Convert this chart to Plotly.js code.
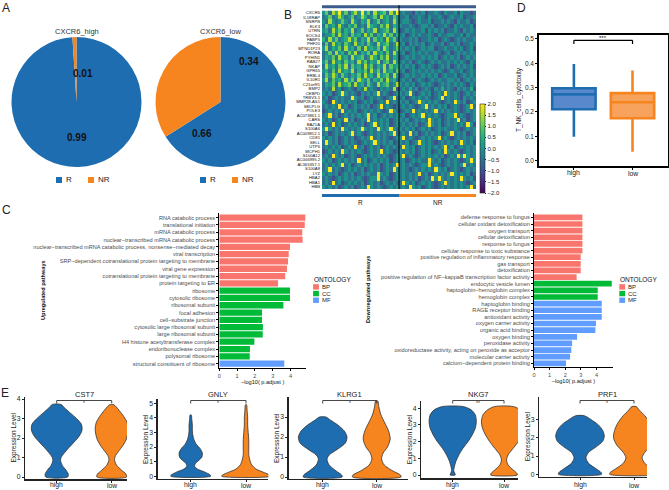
<!DOCTYPE html>
<html><head><meta charset="utf-8">
<script src="https://cdn.plot.ly/plotly-3.0.1.min.js"></script>
<style>html,body{margin:0;padding:0;background:#fff;}#chart{width:669px;height:490px;}</style>
</head><body><div id="chart"></div>
<script>
// ================= DATA =================
const pieTitles = ['CXCR6_high', 'CXCR6_low'];
const pieLabels = ['R', 'NR'];
const pieHigh = [0.99, 0.01];
const pieLow = [0.66, 0.34];

const heatGenes = ['CXCR6','IL18RAP','SNRPB','ELK3','UTRN','SOCS4','FABP5','PHF20','MTND1P23','RORA',
  'PYHIN1','RAB27','NKAP','GPR65','ERBL4','IL10R1','C21orf91','BMP2','CEBPD','TRBV3-1',
  'MMP28-AS1','SELPLG','POLE3','AC073861.1','CARS','BAZ1A','S100A6','AC009812.1','CD81','SELL',
  'UTP6','MCPH1','S100A12','AC006995.2','AL365357.1','S100A8','LYZ','HBA2','HBA1','HBB'];
const heatGroups = ['R', 'NR'];
// each row: 24 R cells then 24 NR cells, digit d -> value -2 + 0.5*d
const heatRows = [
"46375846 35748463 74563748 34332434 23343243 34243323",
"34634753 46347534 63745364 33423343 24334323 43342334",
"43743464 37435473 46345374 34432343 34233434 32433423",
"36453743 54634375 43647354 43343234 43423343 24343342",
"45374635 47346354 73456374 23434334 24343423 34324343",
"34463745 36453746 35474635 34234343 34324334 43342433",
"53746345 74635473 64537463 43343423 34342343 23434334",
"36374536 43745364 37456347 34243434 23433423 43423343",
"47354637 45363745 46375346 43434234 34423343 34342342",
"34637453 64735463 74536374 34234343 43343234 23434343",
"35463745 37456347 53647354 23434334 34342343 43423434",
"46374536 45374635 47356374 34342343 23434334 34343243",
"37453647 36453746 35473645 43434234 34323434 23434342",
"45363745 47354637 46374536 34234343 43434323 43342343",
"36475364 35463745 37456374 23434334 34342343 34234343",
"47364537 46375463 54637453 34342343 23434334 43423434",
"35463745 63745364 37456347 43434234 34323434 34343243",
"34373423 43243734 32434372 34353423 43243534 32434352",
"43423484 34324343 48343234 43483234 34234384 34323434",
"34234343 38434234 34323483 34234343 43234834 34324343",
"43284343 43423434 23438343 43423484 34343234 38434234",
"34343834 23434342 34834323 34343234 83434342 34323483",
"23434383 43423434 34323843 23438343 43483434 34323434",
"34834234 34343483 42343434 34234348 34343234 48343234",
"43423438 34234383 43434234 43423434 38434234 34834234",
"34383423 43434234 83434234 34343423 48434234 34343842",
"48434384 34348434 38434843 43434234 34234343 34323434",
"34234343 48343234 34343483 34383423 43434234 83434234",
"43434234 34234348 34343234 48343234 34348343 23434343",
"38434234 34323434 84343423 43423484 34323434 34384342",
"34343423 43834234 34234343 38434234 34343483 42343434",
"23434384 34343234 34834323 43434234 34234384 34323434",
"34384342 34323434 34343234 48343234 34343423 43848434",
"43423434 34383423 43434234 34234343 38434234 34323484",
"34343483 42343434 34234348 34343234 48343234 34348343",
"34834323 43434234 34234384 34323434 34384342 34323434",
"43434234 34234343 38434234 34343483 42343434 84343423",
"34323434 34343234 48343234 34343423 43848434 34384342",
"34383423 43434234 34234343 38434234 34323484 34343234",
"43434234 34234384 34323434 34384342 34323434 34343483"
];
const heatTicks = [2.0, 1.5, 1.0, 0.5, 0.0, -0.5, -1.0, -1.5, -2.0];

const upTerms = ['RNA catabolic process','translational initiation','mRNA catabolic process',
  'nuclear\u2212transcribed mRNA catabolic process',
  'nuclear\u2212transcribed mRNA catabolic process, nonsense\u2212mediated decay',
  'viral transcription','SRP\u2212dependent cotranslational protein targeting to membrane',
  'viral gene expression','cotranslational protein targeting to membrane','protein targeting to ER',
  'ribosome','cytosolic ribosome','ribosomal subunit','focal adhesion','cell\u2212substrate junction',
  'cytosolic large ribosomal subunit','large ribosomal subunit','H4 histone acetyltransferase complex',
  'endoribonuclease complex','polysomal ribosome','structural constituent of ribosome'];
const upValues = [4.83,4.80,4.66,4.68,3.97,3.90,3.86,3.80,3.70,3.30,
  3.97,3.97,3.60,2.40,2.40,2.45,2.44,1.97,1.72,1.71,3.65];
const upOntology = ['BP','BP','BP','BP','BP','BP','BP','BP','BP','BP',
  'CC','CC','CC','CC','CC','CC','CC','CC','CC','CC','MF'];

const downTerms = ['defense response to fungus','cellular oxidant detoxification','oxygen transport',
  'cellular detoxification','response to fungus','cellular response to toxic substance',
  'positive regulation of inflammatory response','gas transport','detoxification',
  'positive regulation of NF\u2212kappaB transcription factor activity',
  'endocytic vesicle lumen','haptoglobin\u2212hemoglobin complex','hemoglobin complex',
  'haptoglobin binding','RAGE receptor binding','antioxidant activity','oxygen carrier activity',
  'organic acid binding','oxygen binding','peroxidase activity',
  'oxidoreductase activity, acting on peroxide as acceptor','molecular carrier activity',
  'calcium\u2212dependent protein binding'];
const downValues = [3.10,3.10,3.10,3.10,3.10,3.10,2.99,2.99,2.99,2.73,
  4.98,4.08,4.08,4.34,4.34,4.34,3.97,3.93,2.76,2.44,2.39,2.31,2.05];
const downOntology = ['BP','BP','BP','BP','BP','BP','BP','BP','BP','BP',
  'CC','CC','CC','MF','MF','MF','MF','MF','MF','MF','MF','MF','MF'];
const ontologyNames = ['BP','CC','MF'];

const boxGroups = ['high','low'];
const boxQ1 = [0.211, 0.174];
const boxMedian = [0.272, 0.240];
const boxQ3 = [0.297, 0.277];
const boxLower = [0.098, 0.036];
const boxUpper = [0.397, 0.370];
const boxSignif = '***';
const boxYTitle = 'T_NK_cells_cytotoxity';

const violinGenes = ['CST7','GNLY','KLRG1','NKG7','PRF1'];
const violinSignif = ['*','*','*','**','*'];
const violinGroups = ['high','low'];
// density outlines: expression levels and half widths (in category units)
const cst7HighY = [0,0.15,0.35,0.6,0.85,1.0,1.2,1.5,1.8,2.1,2.4,2.7,3.0,3.3,3.55,3.72];
const cst7HighW = [0.2,0.21,0.17,0.1,0.07,0.08,0.13,0.22,0.32,0.41,0.46,0.45,0.36,0.24,0.14,0.08];
const cst7LowY  = [0,0.15,0.35,0.6,0.9,1.1,1.3,1.6,1.9,2.2,2.5,2.8,3.1,3.4,3.6,3.7];
const cst7LowW  = [0.27,0.26,0.18,0.09,0.05,0.07,0.12,0.2,0.26,0.29,0.3,0.28,0.22,0.14,0.08,0.04];
const gnlyHighY = [0,0.1,0.3,0.5,0.7,0.9,1.1,1.3,1.6,1.9,2.2,2.5,2.8,3.1,3.5,3.9,4.2];
const gnlyHighW = [0.36,0.35,0.25,0.12,0.07,0.09,0.15,0.2,0.21,0.17,0.1,0.06,0.04,0.03,0.03,0.02,0.01];
const gnlyLowY  = [0,0.1,0.3,0.5,0.8,1.1,1.5,2.0,2.5,3.0,3.5,4.0,4.5,4.9];
const gnlyLowW  = [0.44,0.42,0.3,0.18,0.1,0.07,0.05,0.05,0.05,0.04,0.03,0.03,0.02,0.01];
const klrg1HighY = [0,0.1,0.3,0.6,0.9,1.1,1.4,1.7,2.0,2.3,2.6,2.85,3.0];
const klrg1HighW = [0.36,0.35,0.25,0.12,0.08,0.12,0.28,0.42,0.45,0.4,0.28,0.14,0.06];
const klrg1LowY  = [0,0.1,0.3,0.6,0.9,1.2,1.5,1.9,2.3,2.7,3.1,3.5,3.8];
const klrg1LowW  = [0.45,0.44,0.3,0.14,0.09,0.12,0.2,0.25,0.22,0.15,0.08,0.04,0.02];
const nkg7HighY = [0,0.1,0.25,0.45,0.8,1.2,1.6,2.0,2.4,2.8,3.2,3.6,3.9,4.1];
const nkg7HighW = [0.05,0.04,0.02,0.03,0.06,0.12,0.2,0.3,0.38,0.44,0.46,0.44,0.36,0.2];
const nkg7LowY  = [0,0.1,0.3,0.6,0.9,1.2,1.6,2.0,2.4,2.8,3.2,3.6,3.9,4.1];
const nkg7LowW  = [0.26,0.25,0.18,0.08,0.05,0.08,0.18,0.28,0.36,0.42,0.44,0.41,0.32,0.18];
const prf1HighY = [0,0.1,0.3,0.6,0.9,1.2,1.5,1.8,2.1,2.4,2.7,3.0,3.2];
const prf1HighW = [0.4,0.39,0.3,0.16,0.11,0.16,0.3,0.42,0.45,0.42,0.34,0.2,0.08];
const prf1LowY  = [0,0.1,0.3,0.6,0.9,1.2,1.6,2.0,2.4,2.8,3.2,3.5,3.7];
const prf1LowW  = [0.45,0.44,0.34,0.2,0.15,0.2,0.32,0.38,0.36,0.3,0.2,0.1,0.04];
const violinTicks = [[0,1,2,3,4],[0,1,2,3,4,5],[0,1,2,3],[0,1,2,3,4],[0,1,2,3]];

// ================= LAYOUT HELPERS =================
const W = 669, H = 490;
const xd = (a, b) => [a / W, b / W];
const yd = (a, b) => [1 - b / H, 1 - a / H];
const FONT = 'Liberation Sans, Arial, Helvetica, sans-serif';
const BLUE = '#1f6db1', ORANGE = '#f6851f';
const ONTO_COLORS = {BP: '#F8766D', CC: '#00BA38', MF: '#619CFF'};
const traces = [];
const annotations = [];
const shapes = [];
const layout = {
  width: W, height: H, margin: {l: 0, r: 0, t: 0, b: 0},
  paper_bgcolor: '#ffffff', plot_bgcolor: 'rgba(0,0,0,0)',
  showlegend: false, barmode: 'overlay', boxmode: 'overlay',
  font: {family: FONT, size: 6, color: '#333'},
  annotations: annotations, shapes: shapes
};
function note(a) {
  annotations.push(Object.assign({showarrow: false, xanchor: 'center', yanchor: 'middle',
    borderpad: 0, font: {family: FONT, size: 6.5, color: '#222'}}, a));
}
function txt(x, y, text, size, opts) {
  note(Object.assign({xref: 'paper', yref: 'paper', x: x / W, y: 1 - y / H, text: text,
    font: {family: FONT, size: size, color: '#222'}}, opts || {}));
}
function rect(x0, y0, x1, y1, color) {
  shapes.push({type: 'rect', xref: 'paper', yref: 'paper', x0: x0 / W, x1: x1 / W, y0: 1 - y1 / H, y1: 1 - y0 / H,
    fillcolor: color, line: {width: 0}});
}

// panel letters
txt(6, 8, 'A', 12); txt(288, 15, 'B', 12); txt(6, 210, 'C', 12); txt(521, 8, 'D', 12); txt(5, 393, 'E', 12);

// ================= A: pies =================
const pieCx = [76.5, 220.5], pieCy = 102, pieR = 65;
[pieHigh, pieLow].forEach((vals, k) => {
  traces.push({type: 'pie', values: vals, labels: pieLabels, sort: false, direction: 'counterclockwise',
    rotation: 0, marker: {colors: [BLUE, ORANGE], line: {width: 0}}, textinfo: 'none', hoverinfo: 'none',
    showlegend: false, domain: {x: xd(pieCx[k] - pieR, pieCx[k] + pieR), y: yd(pieCy - pieR, pieCy + pieR)}});
  txt(pieCx[k], 31.5, pieTitles[k], 7.5, {font: {family: FONT, size: 7.5, color: '#333'}});
  rect(pieCx[k] - 20.5, 177, pieCx[k] - 14.5, 183, BLUE);
  txt(pieCx[k] - 12, 180, pieLabels[0], 8, {xanchor: 'left'});
  rect(pieCx[k] + 11.5, 177, pieCx[k] + 17.5, 183, ORANGE);
  txt(pieCx[k] + 20, 180, pieLabels[1], 8, {xanchor: 'left'});
});
const pieLabelPos = [[[76.5, 137], [82.7, 73.3]], [[201.7, 133.3], [248.7, 61.7]]];
[pieHigh, pieLow].forEach((vals, k) => {
  vals.forEach((v, i) => {
    txt(pieLabelPos[k][i][0], pieLabelPos[k][i][1], '<b>' + v.toFixed(2) + '</b>', 10, {font: {family: FONT, size: 10, color: '#111'}});
  });
});

// ================= B: heatmap =================
const heatZ = heatRows.map(r => r.replace(/\s/g, '').split('').map(d => -2 + 0.5 * Number(d)));
const nCols = heatZ[0].length, nR = nCols / 2;
const colIdx = Array.from({length: nCols}, (_, i) => i);
const rowIdx = heatGenes.map((_, i) => i);
const HX0 = 322, HX1 = 476, HY0 = 10.5, HY1 = 189;
traces.push({type: 'heatmap', z: heatZ, x: colIdx, y: rowIdx, xaxis: 'x', yaxis: 'y',
  colorscale: 'Viridis', zmin: -2, zmax: 2, hoverinfo: 'none',
  colorbar: {x: 480 / W, xanchor: 'left', y: 1 - 104 / H, yanchor: 'top', len: 89, lenmode: 'pixels',
    thickness: 4.5, thicknessmode: 'pixels', xpad: 0, ypad: 0, outlinewidth: 0.6, outlinecolor: '#222',
    tickvals: heatTicks, ticktext: heatTicks.map(v => (v < 0 ? '\u2212' : '') + Math.abs(v).toFixed(1)),
    tickfont: {family: FONT, size: 6, color: '#222'}, ticks: 'outside', ticklen: 1.5, tickcolor: '#222'}});
layout.xaxis = {domain: xd(HX0, HX1), range: [-0.5, nCols - 0.5], showticklabels: false, showgrid: false,
  zeroline: false, ticks: '', showline: false};
layout.yaxis = {domain: yd(HY0, HY1), range: [heatGenes.length - 0.5, -0.5], tickmode: 'array', tickvals: rowIdx,
  ticktext: heatGenes, tickfont: {family: FONT, size: 4.2, color: '#111'}, ticks: '', showgrid: false,
  zeroline: false, showline: false, ticklabelstandoff: 1};
// top strip and group bar
shapes.push({type: 'rect', xref: 'x', yref: 'paper', x0: -0.5, x1: nCols - 0.5, y0: 1 - 8.3 / H, y1: 1 - 5.3 / H,
  fillcolor: '#3b5b8e', line: {width: 0}});
shapes.push({type: 'line', xref: 'x', yref: 'paper', x0: nR - 0.5, x1: nR - 0.5, y0: 1 - HY1 / H, y1: 1 - 5.3 / H,
  line: {color: '#000', width: 1}});
shapes.push({type: 'rect', xref: 'x', yref: 'paper', x0: -0.5, x1: nR - 0.5, y0: 1 - 197 / H, y1: 1 - 194 / H,
  fillcolor: BLUE, line: {width: 0}});
shapes.push({type: 'rect', xref: 'x', yref: 'paper', x0: nR - 0.5, x1: nCols - 0.5, y0: 1 - 197 / H, y1: 1 - 194 / H,
  fillcolor: ORANGE, line: {width: 0}});
note({xref: 'x', yref: 'paper', x: (nR - 1) / 2, y: 1 - 202 / H, text: heatGroups[0]});
note({xref: 'x', yref: 'paper', x: nR + (nR - 1) / 2, y: 1 - 202 / H, text: heatGroups[1]});

// ================= C: enrichment bars =================
function enrich(terms, vals, onto, ax, xdom, ydom, xmax) {
  ontologyNames.forEach(o => {
    const ys = [], xs = [];
    terms.forEach((t, i) => { if (onto[i] === o) { ys.push(i); xs.push(vals[i]); } });
    traces.push({type: 'bar', orientation: 'h', x: xs, y: ys, xaxis: 'x' + ax, yaxis: 'y' + ax, width: 0.86,
      marker: {color: ONTO_COLORS[o], line: {width: 0}}, hoverinfo: 'none'});
  });
  layout['xaxis' + ax] = {domain: xdom, range: [0, xmax], anchor: 'y' + ax, tickvals: [0, 1, 2, 3, 4],
    ticks: 'outside', ticklen: 2, tickcolor: '#000', showline: true, linecolor: '#000', linewidth: 1,
    showgrid: false, zeroline: false, tickfont: {family: FONT, size: 5.6, color: '#4d4d4d'},
    title: {text: '\u2212log10( p.adjust )', font: {family: FONT, size: 5.6, color: '#111'}, standoff: 1}};
  layout['yaxis' + ax] = {domain: ydom, range: [terms.length - 0.4, -0.6], anchor: 'x' + ax, tickmode: 'array',
    tickvals: terms.map((_, i) => i), ticktext: terms, ticks: 'outside', ticklen: 2, tickcolor: '#000',
    showline: true, linecolor: '#000', linewidth: 1, showgrid: false, zeroline: false,
    tickfont: {family: FONT, size: 5.6, color: '#4d4d4d'}};
}
enrich(upTerms, upValues, upOntology, 2, xd(219.3, 306), yd(213.3, 368), 4.87);
enrich(downTerms, downValues, downOntology, 3, xd(534, 612.7), yd(213.4, 367.3), 5.04);
txt(43, 290, '<b>Upregulated pathways</b>', 5.6, {textangle: -90, font: {family: FONT, size: 5.6, color: '#111'}});
txt(368, 290, '<b>Downregulated pathways</b>', 5.6, {textangle: -90, font: {family: FONT, size: 5.6, color: '#111'}});
[312.5, 618.7].forEach(lx => {
  txt(lx, 279.3, 'ONTOLOGY', 6.5, {xanchor: 'left', font: {family: FONT, size: 6.5, color: '#111'}});
  ontologyNames.forEach((o, i) => {
    rect(lx + 0.6, 284.2 + i * 6.67, lx + 6.4, 289.6 + i * 6.67, ONTO_COLORS[o]);
    txt(lx + 8, 286.9 + i * 6.67, o, 6, {xanchor: 'left', font: {family: FONT, size: 6, color: '#222'}});
  });
});

// ================= D: box plot =================
const boxColors = [[BLUE, '#5a88cc'], [ORANGE, '#f7a25d']];
boxGroups.forEach((g, i) => {
  traces.push({type: 'box', x: [g], q1: [boxQ1[i]], median: [boxMedian[i]], q3: [boxQ3[i]],
    lowerfence: [boxLower[i]], upperfence: [boxUpper[i]], xaxis: 'x4', yaxis: 'y4', width: 0.74,
    whiskerwidth: 0, fillcolor: boxColors[i][1], line: {color: boxColors[i][0], width: 2.6},
    hoverinfo: 'none', boxpoints: false});
  note({xref: 'x4', yref: 'paper', x: i, y: 1 - 173 / H, text: g, font: {family: FONT, size: 6.8, color: '#222'}});
});
layout.xaxis4 = {domain: xd(539.3, 667.7), anchor: 'y4', type: 'category', categoryarray: boxGroups,
  range: [-0.59, 1.6], showline: true, mirror: true, linecolor: '#000', linewidth: 2, ticks: 'outside',
  ticklen: 2.5, tickcolor: '#000', showgrid: false, zeroline: false, showticklabels: false};
layout.yaxis4 = {domain: yd(35, 165.7), anchor: 'x4', range: [-0.021, 0.516], tickvals: [0, 0.1, 0.2, 0.3, 0.4, 0.5],
  tickformat: '.1f', showline: true, mirror: true, linecolor: '#000', linewidth: 2, ticks: 'outside',
  ticklen: 2, tickcolor: '#000', showgrid: false, zeroline: false,
  tickfont: {family: FONT, size: 6.5, color: '#222'}};
txt(519, 100, boxYTitle, 6.5, {textangle: -90});
shapes.push({type: 'line', xref: 'x4', yref: 'paper', x0: 0, x1: 1, y0: 1 - 40.3 / H, y1: 1 - 40.3 / H, line: {color: '#000', width: 1.2}});
shapes.push({type: 'line', xref: 'x4', yref: 'paper', x0: 0, x1: 0, y0: 1 - 40.3 / H, y1: 1 - 44 / H, line: {color: '#000', width: 1.2}});
shapes.push({type: 'line', xref: 'x4', yref: 'paper', x0: 1, x1: 1, y0: 1 - 40.3 / H, y1: 1 - 44 / H, line: {color: '#000', width: 1.2}});
note({xref: 'x4', yref: 'paper', x: 0.5, y: 1 - 38.5 / H, text: boxSignif, font: {family: FONT, size: 6, color: '#111'}});

// ================= E: violins =================
const violinProfiles = [
  [[cst7HighY, cst7HighW], [cst7LowY, cst7LowW]],
  [[gnlyHighY, gnlyHighW], [gnlyLowY, gnlyLowW]],
  [[klrg1HighY, klrg1HighW], [klrg1LowY, klrg1LowW]],
  [[nkg7HighY, nkg7HighW], [nkg7LowY, nkg7LowW]],
  [[prf1HighY, prf1HighW], [prf1LowY, prf1LowW]]
];
const vGeom = [
  {ax0: 25, hi: 56.7, lo: 111.7, right: 127, y0: 477, unit: 19.5, top: 396.7, bot: 479.3},
  {ax0: 157.5, hi: 190.7, lo: 246, right: 268.3, y0: 476.3, unit: 14.6, top: 399, bot: 479},
  {ax0: 288.5, hi: 322.7, lo: 376.7, right: 408, y0: 477, unit: 20, top: 397, bot: 479},
  {ax0: 421, hi: 452.7, lo: 504, right: 518, y0: 475, unit: 16.7, top: 401, bot: 478.3},
  {ax0: 539, hi: 580, lo: 634, right: 647, y0: 474.3, unit: 18.3, top: 396.7, bot: 477}
];
violinGenes.forEach((gene, k) => {
  const g = vGeom[k], ax = 5 + k, s = g.lo - g.hi;
  violinProfiles[k].forEach((prof, j) => {
    const ys = prof[0], ws = prof[1];
    const xs = [], yy = [];
    ys.forEach((y, i) => { xs.push(j + ws[i]); yy.push(y); });
    for (let i = ys.length - 1; i >= 0; i--) { xs.push(j - ws[i]); yy.push(ys[i]); }
    xs.push(xs[0]); yy.push(yy[0]);
    traces.push({type: 'scatter', mode: 'lines', x: xs, y: yy, xaxis: 'x' + ax, yaxis: 'y' + ax,
      fill: 'toself', fillcolor: j === 0 ? BLUE : ORANGE, line: {color: '#333', width: 0.8, shape: 'spline', smoothing: 0.8},
      hoverinfo: 'none'});
  });
  layout['xaxis' + ax] = {domain: xd(g.ax0, g.right), anchor: 'y' + ax,
    range: [(g.ax0 - g.hi) / s, (g.right - g.hi) / s], tickvals: [0, 1], showticklabels: false,
    showline: true, linecolor: '#222', linewidth: 1.2, ticks: 'outside', ticklen: 2, tickcolor: '#222',
    showgrid: false, zeroline: false};
  layout['yaxis' + ax] = {domain: yd(g.top, g.bot), anchor: 'x' + ax,
    range: [(g.y0 - g.bot) / g.unit, (g.y0 - g.top) / g.unit], tickvals: violinTicks[k],
    showline: true, linecolor: '#222', linewidth: 1.2, ticks: 'outside', ticklen: 2, tickcolor: '#222',
    showgrid: false, zeroline: false, tickfont: {family: FONT, size: 6.8, color: '#222'}};
  violinGroups.forEach((vg, j) => {
    note({xref: 'x' + ax, yref: 'paper', x: j, y: 1 - 485.3 / H, text: vg, font: {family: FONT, size: 6.8, color: '#222'}});
  });
  txt(g.ax0 - 11.5, (g.top + g.bot) / 2, 'Expression Level', 6.5, {textangle: -90});
  note({xref: 'x' + ax, yref: 'paper', x: 0.5, y: 1 - 394 / H, text: gene, font: {family: FONT, size: 7.5, color: '#222'}});
  shapes.push({type: 'line', xref: 'x' + ax, yref: 'paper', x0: 0, x1: 1, y0: 1 - 400.5 / H, y1: 1 - 400.5 / H, line: {color: '#333', width: 0.9}});
  shapes.push({type: 'line', xref: 'x' + ax, yref: 'paper', x0: 0, x1: 0, y0: 1 - 400.5 / H, y1: 1 - 403.5 / H, line: {color: '#333', width: 0.9}});
  shapes.push({type: 'line', xref: 'x' + ax, yref: 'paper', x0: 1, x1: 1, y0: 1 - 400.5 / H, y1: 1 - 403.5 / H, line: {color: '#333', width: 0.9}});
  note({xref: 'x' + ax, yref: 'paper', x: 0.5, y: 1 - 402.5 / H, text: violinSignif[k], font: {family: FONT, size: 5, color: '#333'}});
});

Plotly.newPlot('chart', traces, layout, {staticPlot: true, displayModeBar: false});
</script></body></html>
